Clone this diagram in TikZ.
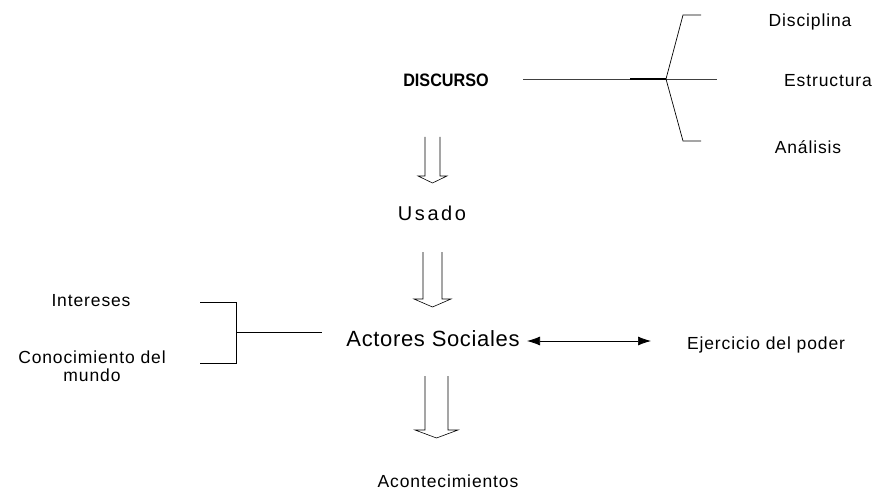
\documentclass[tikz,border=0pt]{standalone}
\usepackage{fontspec}
\setmainfont{Liberation Sans}
\usetikzlibrary{arrows.meta}

\tikzset{
  lbl/.style={inner sep=0pt, font=\fontsize{17.5}{18}\selectfont\addfontfeatures{LetterSpace=5}},
  biglbl/.style={inner sep=0pt, font=\fontsize{22}{24}\selectfont\addfontfeatures{LetterSpace=3}},
  thinline/.style={line width=0.7pt},
  blockdown/.style={line width=0.6pt, line join=miter}
}

% hollow arrow pointing down: x left, x right, top, bottom of shaft, head half width, tip depth
\newcommand{\hollowdown}[6]{%
  \draw[blockdown] (#1,#3) -- (#1,#4) -- ({#1-#5},#4) -- ({(#1+#2)/2},{#4+#6})
    -- ({#2+#5},#4) -- (#2,#4) -- (#2,#3);}

\begin{document}
\begin{tikzpicture}[x=1pt,y=-1pt]
			\useasboundingbox (0,0) rectangle (878,492);

			% main column
			\node[inner sep=0pt, font=\fontsize{18}{20}\selectfont\bfseries\addfontfeatures{FakeStretch=0.9}] (disc) at (446,80) {DISCURSO};
			\node[inner sep=0pt, font=\fontsize{20}{22}\selectfont\addfontfeatures{LetterSpace=13}] (usado) at (432,213) {Usado};
			\node[biglbl] (act) at (433,339) {Actores Sociales};
			\node[lbl] (acon) at (448,481) {Acontecimientos};

			% right side
			\node[lbl] (disci) at (810,22) {Disciplina};
			\node[lbl] (estr) at (828,81) {Estructura};
			\node[lbl] (anal) at (808,147) {Análisis};
			\node[lbl] (ejer) at (766,345) {Ejercicio del poder};

			% left side
			\node[lbl] (inter) at (91,301) {Intereses};
			\node[lbl, align=center] (conoc) at (92,366) {Conocimiento del\\mundo};

			% bracket from DISCURSO
			\coordinate (dl) at (523,79);
			\coordinate (dk) at (666,79);
			\draw[thinline, black!75] (dl) -- (717,79);
			\draw[line width=1.6pt] (630,79) -- (dk);
			\draw[thinline] (701,15) -- (683,15) -- (dk) -- (683,141) -- (701,141);

			% bracket into Actores Sociales
			\coordinate (lb) at (236,332);
			\draw[thinline] (200,302) -- (236,302) -- (236,363) -- (200,363);
			\draw[thinline] (lb) -- (322,332);

			% Actores Sociales <-> Ejercicio del poder
			\coordinate (pa) at (527,341);
			\coordinate (pb) at (651,341);
			\draw[thinline, {Latex[length=13pt,width=9pt]}-{Latex[length=13pt,width=9pt]}] (pa) -- (pb);

			% hollow arrows down
			\hollowdown{425}{440}{137}{176}{7}{7}
			\hollowdown{423}{442}{252}{299}{9}{8}
			\hollowdown{425}{448}{376}{430}{10}{8}
		\end{tikzpicture}
\end{document}
